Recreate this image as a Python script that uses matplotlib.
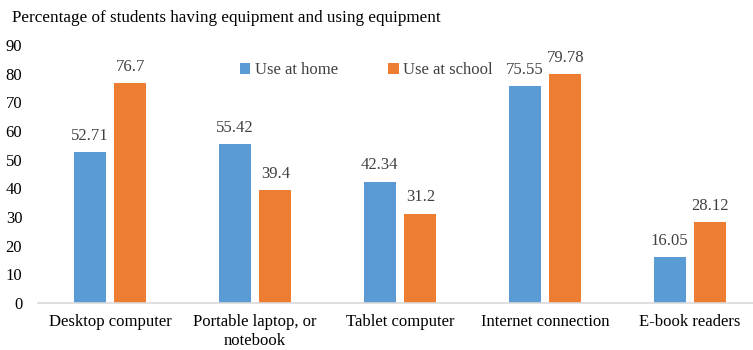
import matplotlib.pyplot as plt
import numpy as np

categories = ['Desktop computer', 'Portable laptop, or\nnotebook', 'Tablet computer',
              'Internet connection', 'E-book readers']
home = [52.71, 55.42, 42.34, 75.55, 16.05]
school = [76.7, 39.4, 31.2, 79.78, 28.12]
yticks = [0, 10, 20, 30, 40, 50, 60, 70, 80, 90]

blue = '#5B9BD5'
orange = '#ED7D31'
txt = '#404040'

plt.rcParams['font.family'] = ['Liberation Serif', 'DejaVu Serif']
plt.rcParams['font.size'] = 12

fig = plt.figure(figsize=(7.53, 3.5), dpi=100)
ax = fig.add_axes([37.5/753, 47/350, 725/753, 258/350])

x = np.arange(len(categories))
w = 0.22
off = 0.141
b1 = ax.bar(x - off, home, w, color=blue, label='Use at home')
b2 = ax.bar(x + off, school, w, color=orange, label='Use at school')

# value labels above each bar
for bars, vals in ((b1, home), (b2, school)):
    for r, v in zip(bars, vals):
        ax.annotate('%g' % v, (r.get_x() + r.get_width()/2, v), xytext=(0, 6),
                    textcoords='offset points', ha='center', va='bottom',
                    color=txt, fontsize=12)

ax.set_xlim(-0.5, 4.5)
ax.set_ylim(0, 90)
ax.set_yticks(yticks)
ax.set_xticks(x)
ax.set_xticklabels(categories, color='black')
ax.tick_params(axis='both', length=0, colors='black')
ax.tick_params(axis='y', pad=11)
ax.tick_params(axis='x', pad=8)
for s in ['top', 'right', 'left']:
    ax.spines[s].set_visible(False)
ax.spines['bottom'].set_color('#D9D9D9')
ax.spines['bottom'].set_linewidth(1.2)

fig.text(12/753, 1 - 18/350, 'Percentage of students having equipment and using equipment',
         ha='left', va='center', fontsize=12.3, color='black')

leg = fig.legend(handles=[b1, b2], loc='center', bbox_to_anchor=(366/753, 1 - 70/350),
                 ncol=2, frameon=False, handlelength=0.65, handleheight=0.65,
                 handletextpad=0.25, columnspacing=3.0, fontsize=12)
for t in leg.get_texts():
    t.set_color(txt)

fig.savefig('out.png', dpi=100)
